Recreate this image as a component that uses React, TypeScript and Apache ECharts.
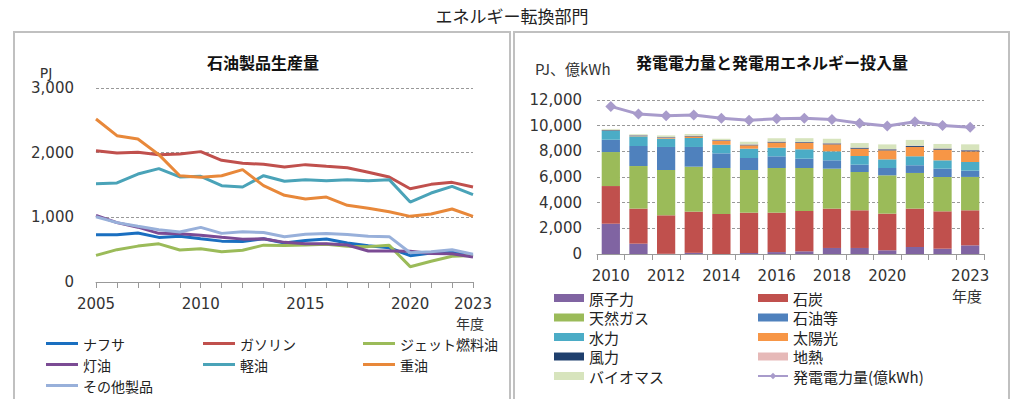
import React, { useEffect, useRef } from "react";
import * as echarts from "echarts";

// ---- Left chart: 石油製品生産量 (PJ) ----
const yearsL = ["2005","2006","2007","2008","2009","2010","2011","2012","2013","2014","2015","2016","2017","2018","2019","2020","2021","2022","2023"];
const labelsL = ["2005","2010","2015","2020","2023"];
const naphtha = [730, 730, 758, 690, 706, 668, 632, 625, 670, 603, 640, 665, 603, 560, 530, 407, 448, 460, 403];
const gasoline = [2031, 1995, 2005, 1969, 1979, 2016, 1882, 1835, 1820, 1778, 1815, 1789, 1768, 1696, 1624, 1443, 1510, 1541, 1469];
const jetFuel = [412, 500, 555, 590, 495, 513, 469, 490, 570, 565, 572, 585, 552, 547, 567, 237, 320, 397, 410];
const kerosene = [1031, 918, 848, 752, 745, 724, 693, 663, 668, 613, 590, 590, 572, 480, 480, 474, 440, 436, 387];
const diesel = [1521, 1531, 1670, 1753, 1624, 1634, 1490, 1469, 1644, 1557, 1583, 1567, 1583, 1567, 1583, 1237, 1376, 1479, 1351];
const heavyOil = [2521, 2263, 2211, 1969, 1644, 1619, 1644, 1737, 1490, 1340, 1284, 1314, 1186, 1139, 1085, 1015, 1052, 1129, 1015];
const otherProducts = [1010, 918, 861, 809, 773, 845, 752, 778, 765, 701, 737, 750, 735, 706, 701, 453, 467, 500, 430];

// ---- Right chart: 発電電力量と発電用エネルギー投入量 ----
const yearsR = ["2010","2011","2012","2013","2014","2015","2016","2017","2018","2019","2020","2021","2022","2023"];
const labelsR = ["2010","2012","2014","2016","2018","2020","2023"];
const nuclear = [2360, 805, 15, 90, 0, 80, 150, 210, 470, 470, 290, 545, 415, 675];
const coal = [2935, 2730, 3000, 3210, 3116, 3140, 3070, 3140, 3065, 2935, 2855, 2990, 2910, 2730];
const naturalGas = [2650, 3320, 3530, 3505, 3585, 3325, 3480, 3350, 3115, 2985, 2985, 2780, 2675, 2600];
const oilEtc = [960, 1560, 1795, 1535, 1140, 935, 910, 730, 650, 570, 570, 600, 650, 490];
const hydro = [700, 755, 650, 700, 675, 727, 675, 730, 700, 675, 675, 700, 650, 675];
const solar = [20, 30, 60, 120, 290, 260, 400, 490, 545, 570, 700, 730, 830, 830];
const wind = [40, 40, 45, 45, 50, 55, 60, 60, 70, 75, 80, 80, 80, 80];
const geothermal = [25, 25, 25, 25, 25, 25, 25, 25, 25, 25, 25, 25, 25, 25];
const biomass = [55, 65, 120, 120, 100, 200, 250, 290, 340, 340, 360, 440, 340, 440];
const generation = [11500, 10900, 10780, 10840, 10580, 10420, 10530, 10580, 10490, 10190, 9980, 10300, 10010, 9880];

const JP = '"Noto Sans CJK JP", "Noto Sans", sans-serif';
const NUM = '"DejaVu Sans", Verdana, sans-serif';
const fmt = (v: number) => v.toLocaleString("en-US");

export default function App() {
  const ref = useRef<HTMLDivElement>(null);
  useEffect(() => {
    if (!ref.current) return;
    const chart = echarts.init(ref.current, undefined, { renderer: "svg" });

    const lineSeries = (name: string, data: number[], color: string) => ({
      name, type: "line", data, xAxisIndex: 0, yAxisIndex: 0,
      symbol: "none", showSymbol: false,
      lineStyle: { width: 3, color }, itemStyle: { color },
    });
    const barSeries = (name: string, data: number[], color: string) => ({
      name, type: "bar", stack: "power", data, xAxisIndex: 1, yAxisIndex: 1,
      barCategoryGap: "34%", itemStyle: { color },
    });

    const splitLine = { show: true, lineStyle: { color: "#999", type: [3, 2], width: 1 } };
    const legendText = { fontSize: 14, fontFamily: JP, color: "#222", lineHeight: 17 };
    const legendTextR = { fontSize: 15, fontFamily: JP, color: "#222", lineHeight: 16 };

    const option: any = {
      animation: false,
      textStyle: { fontFamily: NUM },
      grid: [
        { left: 96, top: 88, width: 377, height: 194 },
        { left: 597, top: 100, width: 387, height: 154 },
      ],
      xAxis: [
        {
          type: "category", gridIndex: 0, data: yearsL, boundaryGap: false,
          axisLine: { lineStyle: { color: "#999" } },
          axisTick: { show: true, interval: 0, length: 6, lineStyle: { color: "#999" } },
          axisLabel: {
            interval: (_i: number, v: string) => labelsL.includes(v),
            color: "#333", fontSize: 15, margin: 14, fontFamily: NUM,
          },
        },
        {
          type: "category", gridIndex: 1, data: yearsR, boundaryGap: true,
          axisLine: { lineStyle: { color: "#999" } },
          axisTick: { show: true, interval: 0, length: 6, lineStyle: { color: "#999" } },
          axisLabel: {
            interval: (_i: number, v: string) => labelsR.includes(v),
            color: "#333", fontSize: 15, margin: 14, fontFamily: NUM,
          },
        },
      ],
      yAxis: [
        {
          type: "value", gridIndex: 0, min: 0, max: 3000, interval: 1000,
          axisLine: { show: false }, axisTick: { show: false }, splitLine,
          axisLabel: { formatter: fmt, color: "#333", fontSize: 15, margin: 22, fontFamily: NUM },
        },
        {
          type: "value", gridIndex: 1, min: 0, max: 12000, interval: 2000,
          axisLine: { show: false }, axisTick: { show: false }, splitLine,
          axisLabel: { formatter: fmt, color: "#333", fontSize: 15, margin: 15, fontFamily: NUM },
        },
      ],
      legend: [
        { orient: "vertical", left: 46, top: 335, padding: 0, itemGap: 4, itemWidth: 32, itemHeight: 3, icon: "rect", textStyle: legendText, data: ["ナフサ", "灯油", "その他製品"] },
        { orient: "vertical", left: 203, top: 335, padding: 0, itemGap: 4, itemWidth: 32, itemHeight: 3, icon: "rect", textStyle: legendText, data: ["ガソリン", "軽油"] },
        { orient: "vertical", left: 363, top: 335, padding: 0, itemGap: 4, itemWidth: 32, itemHeight: 3, icon: "rect", textStyle: legendText, data: ["ジェット燃料油", "重油"] },
        {
          orient: "vertical", left: 554, top: 290, padding: 0, itemGap: 3.5, itemWidth: 30, itemHeight: 8, textStyle: legendTextR,
          data: [
            { name: "原子力", icon: "rect" }, { name: "天然ガス", icon: "rect" }, { name: "水力", icon: "rect" },
            { name: "風力", icon: "rect" }, { name: "バイオマス", icon: "rect" },
          ],
        },
        {
          orient: "vertical", left: 757, top: 290, padding: 0, itemGap: 3.5, itemWidth: 30, itemHeight: 8, textStyle: legendTextR,
          data: [
            { name: "石炭", icon: "rect" }, { name: "石油等", icon: "rect" }, { name: "太陽光", icon: "rect" },
            { name: "地熱", icon: "rect" }, { name: "発電電力量(億kWh)" },
          ],
        },
      ],
      series: [
        lineSeries("ナフサ", naphtha, "#1a6fc0"),
        lineSeries("ガソリン", gasoline, "#c0504d"),
        lineSeries("ジェット燃料油", jetFuel, "#9bbb59"),
        lineSeries("灯油", kerosene, "#7b4b94"),
        lineSeries("軽油", diesel, "#4aa3b8"),
        lineSeries("重油", heavyOil, "#e8883a"),
        lineSeries("その他製品", otherProducts, "#98b0da"),
        barSeries("原子力", nuclear, "#8064a2"),
        barSeries("石炭", coal, "#c0504d"),
        barSeries("天然ガス", naturalGas, "#9bbb59"),
        barSeries("石油等", oilEtc, "#4f81bd"),
        barSeries("水力", hydro, "#4bacc6"),
        barSeries("太陽光", solar, "#f79646"),
        barSeries("風力", wind, "#1f3f6d"),
        barSeries("地熱", geothermal, "#e6b9b8"),
        barSeries("バイオマス", biomass, "#d7e4bd"),
        {
          name: "発電電力量(億kWh)", type: "line", data: generation, xAxisIndex: 1, yAxisIndex: 1,
          symbol: "diamond", symbolSize: 11, showSymbol: true, z: 5,
          lineStyle: { width: 3, color: "#a89bcb" }, itemStyle: { color: "#a89bcb" },
        },
      ],
      graphic: [
        { type: "rect", silent: true, shape: { x: 14, y: 32, width: 496, height: 400 }, style: { fill: "none", stroke: "#c0c0c0", lineWidth: 2 } },
        { type: "rect", silent: true, shape: { x: 514, y: 32, width: 495, height: 400 }, style: { fill: "none", stroke: "#c0c0c0", lineWidth: 2 } },
        { type: "text", x: 512, y: 15, style: { text: "エネルギー転換部門", fontSize: 17, fontFamily: JP, fill: "#222", align: "center", verticalAlign: "middle" } },
        { type: "text", x: 263, y: 62, style: { text: "石油製品生産量", fontSize: 16, fontWeight: "bold", fontFamily: JP, fill: "#111", align: "center", verticalAlign: "middle" } },
        { type: "text", x: 772, y: 62, style: { text: "発電電力量と発電用エネルギー投入量", fontSize: 16, fontWeight: "bold", fontFamily: JP, fill: "#111", align: "center", verticalAlign: "middle" } },
        { type: "text", x: 46, y: 73, style: { text: "PJ", fontSize: 14, fontFamily: NUM, fill: "#333", align: "center", verticalAlign: "middle" } },
        { type: "text", x: 535, y: 68, style: { text: "PJ、億kWh", fontSize: 15, fontFamily: JP, fill: "#333", align: "left", verticalAlign: "middle" } },
        { type: "text", x: 470, y: 323, style: { text: "年度", fontSize: 14, fontFamily: JP, fill: "#333", align: "center", verticalAlign: "middle" } },
        { type: "text", x: 967, y: 295, style: { text: "年度", fontSize: 15, fontFamily: JP, fill: "#333", align: "center", verticalAlign: "middle" } },
      ],
    };
    chart.setOption(option);
    return () => chart.dispose();
  }, []);

  return (
    <div
      ref={ref}
      style={{ position: "fixed", left: 0, top: 0, width: 1024, height: 399, background: "#fff" }}
    />
  );
}
